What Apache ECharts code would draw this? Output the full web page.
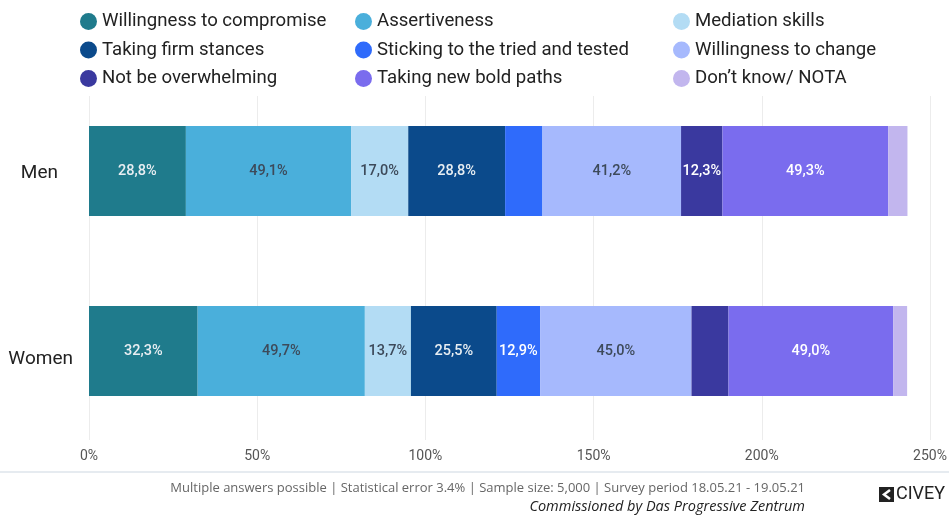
<!DOCTYPE html>
<html><head><meta charset="utf-8">
<script src="https://cdn.jsdelivr.net/npm/echarts@6/dist/echarts.min.js"></script>
<style>html,body{margin:0;padding:0;background:#fff}#c{width:949px;height:517px}</style>
</head><body><div id="c"></div>
<script>
const categories = ['Men', 'Women'];
const seriesNames = ['Willingness to compromise','Assertiveness','Mediation skills','Taking firm stances','Sticking to the tried and tested','Willingness to change','Not be overwhelming','Taking new bold paths','Don\u2019t know/ NOTA'];
const willingnessToCompromise = [28.8, 32.3];
const assertiveness = [49.1, 49.7];
const mediationSkills = [17.0, 13.7];
const takingFirmStances = [28.8, 25.5];
const stickingToTried = [11.1, 12.9];
const willingnessToChange = [41.2, 45.0];
const notBeOverwhelming = [12.3, 11.0];
const takingNewBoldPaths = [49.3, 49.0];
const dontKnow = [5.7, 4.1];
const xTicks = [0, 50, 100, 150, 200, 250];

const values = [willingnessToCompromise, assertiveness, mediationSkills, takingFirmStances, stickingToTried, willingnessToChange, notBeOverwhelming, takingNewBoldPaths, dontKnow];
const colors = ['#1f7b8c','#4aafdb','#b3dcf4','#0b4a8b','#2f6bfb','#a6b9fd','#3a399f','#7a6cee','#c2b6ee'];
const labelColors = ['#e8eef2','#3d4a5a','#3d4a5a','#e8eef2','#ffffff','#3d4a5a','#ffffff','#ffffff','#3d4a5a'];

const chart = echarts.init(document.getElementById('c'));
const series = seriesNames.map((n, i) => ({
  name: n, type: 'bar', stack: 'all', barWidth: 90,
  xAxisIndex: 0, yAxisIndex: 0,
  itemStyle: { color: colors[i] },
  label: {
    show: true, position: 'inside', color: labelColors[i],
    fontFamily: 'Roboto', fontSize: 14.5, fontWeight: 500,
    formatter: p => p.value < 12 ? '' : p.value.toFixed(1).replace('.', ',') + '%'
  },
  data: values[i]
}));
const legendCols = [[0,3,6],[1,4,7],[2,5,8]];
const legendLeft = [75, 350, 668];
const legends = legendCols.map((col, k) => ({
  orient: 'vertical', left: legendLeft[k], top: 7,
  icon: 'circle', itemWidth: 17, itemHeight: 17, itemGap: 9.5,
  textStyle: { fontFamily: 'Roboto', fontSize: 18.6, color: '#222' },
  data: col.map(j => seriesNames[j])
}));
const labelFont = { fontFamily: 'Roboto', fontSize: 19, color: '#222' };
chart.setOption({
  animation: false,
  color: colors,
  legend: legends,
  grid: [
    { left: 89, right: 19, top: 81, bottom: 76, containLabel: false, outerBoundsMode: 'none' },
    { left: 89, right: 19, top: 96, bottom: 77, containLabel: false, outerBoundsMode: 'none' }
  ],
  xAxis: [
    { type: 'value', gridIndex: 0, min: 0, max: 250, interval: 50,
      axisLine: { show: false }, axisTick: { show: false },
      splitLine: { show: false }, axisLabel: { show: false } },
    { type: 'value', gridIndex: 1, min: 0, max: 250, interval: 50,
      axisLine: { show: false }, axisTick: { show: false },
      splitLine: { lineStyle: { color: '#ececec' } },
      axisLabel: { fontFamily: 'Roboto', fontSize: 14, color: '#555', margin: 9,
        formatter: v => xTicks.includes(v) ? v + '%' : '' } }
  ],
  yAxis: [
    { type: 'category', gridIndex: 0, inverse: true, data: categories,
      axisLine: { show: false }, axisTick: { show: false },
      axisLabel: { margin: 16,
        formatter: (v, i) => i === 0 ? '{m|' + v + '}' : '{w|' + v + '}',
        rich: {
          m: Object.assign({ padding: [4, 15, 0, 0] }, labelFont),
          w: Object.assign({ padding: [16, 0, 0, 0] }, labelFont)
        } } },
    { type: 'category', gridIndex: 1, data: categories, show: false }
  ],
  series: series,
  graphic: [
    { type: 'rect', shape: { x: 0, y: 471, width: 949, height: 2 }, style: { fill: '#e6ebf0' } },
    { type: 'text', right: 144, top: 482, style: { text: 'Multiple answers possible | Statistical error 3.4% | Sample size: 5,000 | Survey period 18.05.21 - 19.05.21', font: '13px "Open Sans"', fill: '#666', textAlign: 'right' } },
    { type: 'text', right: 144, top: 499, style: { text: 'Commissioned by Das Progressive Zentrum', font: 'italic 14.5px "Open Sans"', fill: '#222', textAlign: 'right' } },
    { type: 'rect', shape: { x: 879, y: 487, width: 15, height: 15 }, style: { fill: '#222' } },
    { type: 'polyline', shape: { points: [[890, 490], [884, 494.5], [890, 499]] }, style: { stroke: '#fff', lineWidth: 2.5, fill: null } },
    { type: 'text', left: 896, top: 485, style: { text: 'CIVEY', font: '18px "Roboto"', fill: '#222' } }
  ]
});
</script></body></html>
